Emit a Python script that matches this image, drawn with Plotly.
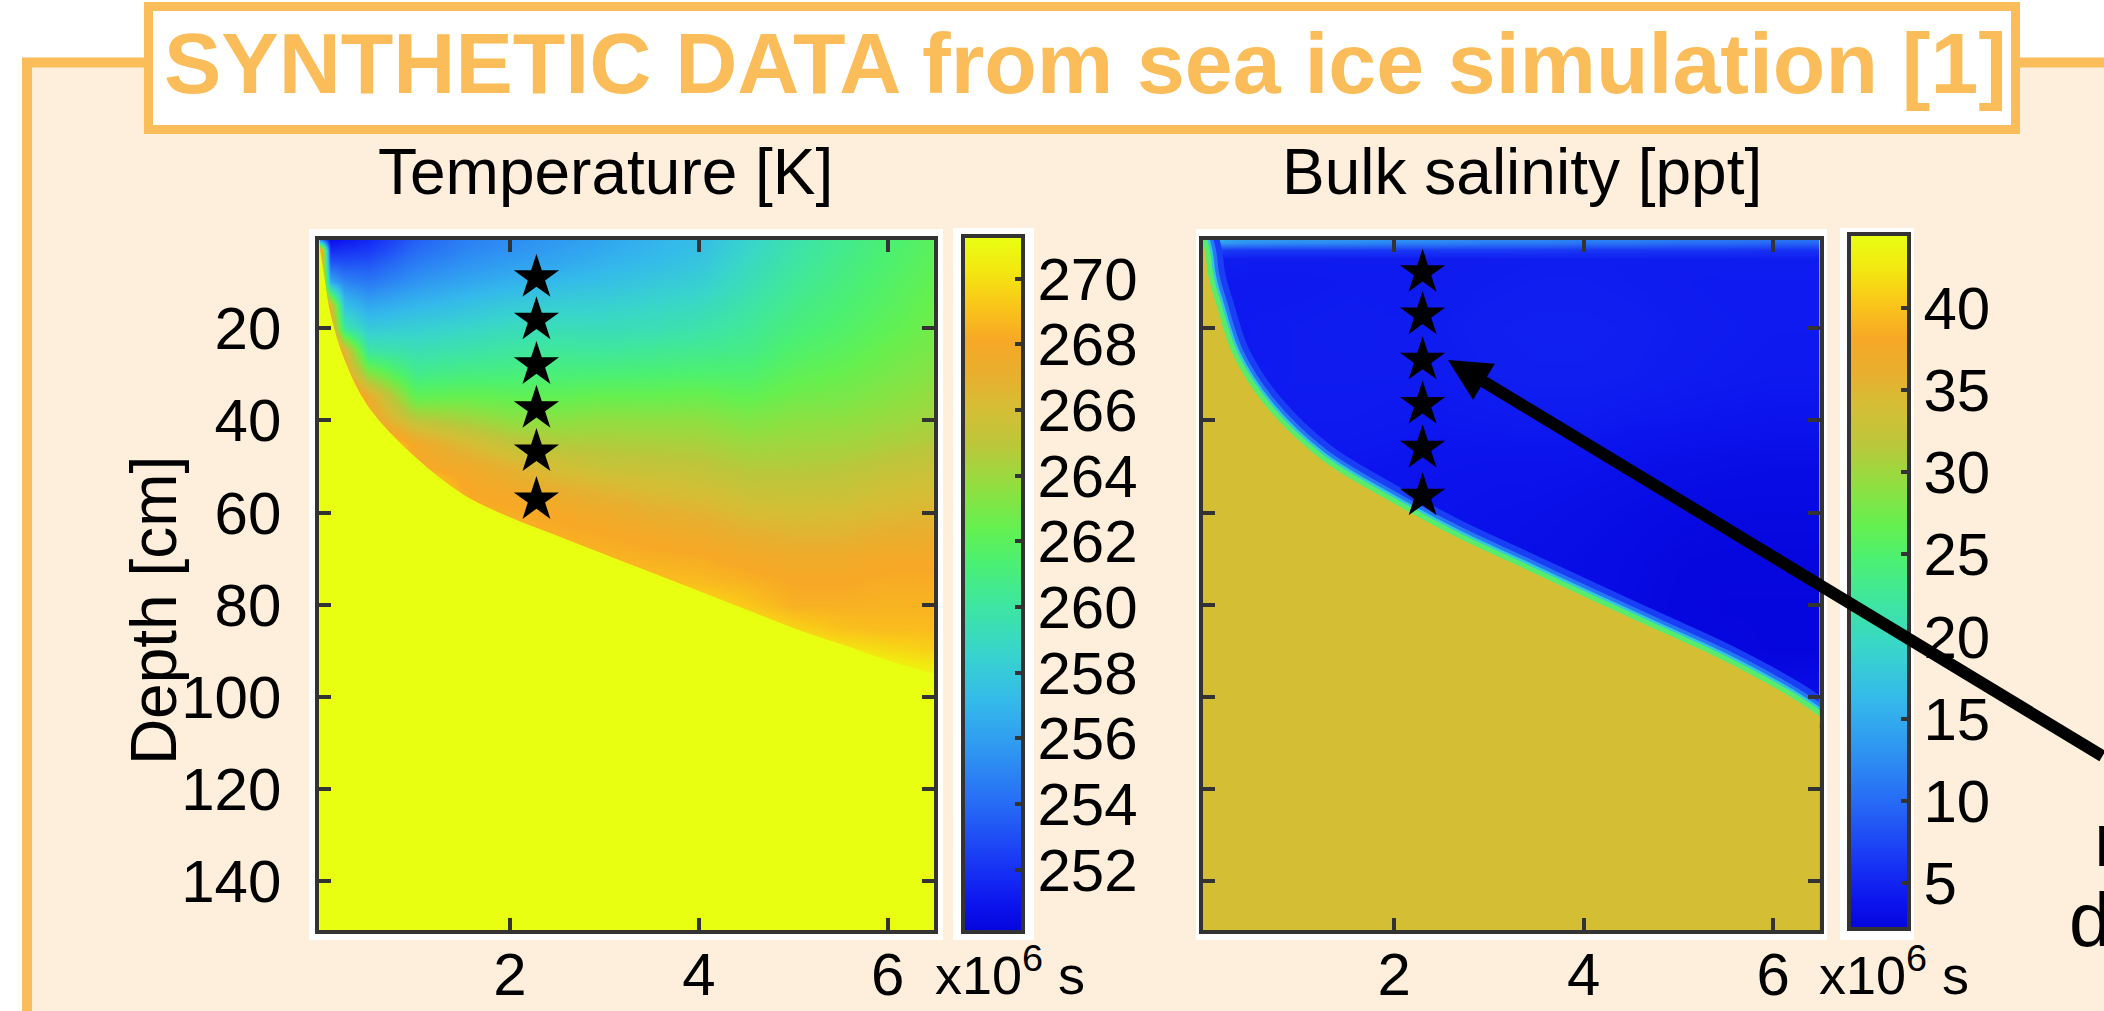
import numpy as np
import plotly.graph_objects as go

W, H = 2104, 1011

# ---------------- data ----------------
time_grid = [0, 0.1, 0.25, 0.5, 1, 1.5, 2, 2.5, 3, 3.5, 4, 4.5, 5, 5.5, 6, 6.5]      # x10^6 s
time_ticks = [2, 4, 6]
depth_ticks = [20, 40, 60, 80, 100, 120, 140]                                        # cm

# Temperature [K] : one profile per time column, at these depths (top -> bottom)
temp_depth = [0, 3, 6, 10, 15, 20, 25, 30, 35, 40, 45, 50, 55, 60, 65, 70, 75, 80, 85, 90, 95, 100, 151]
temp_profiles = [
    [250.1, 268, 268, 268, 268, 268, 271, 271, 271, 271, 271, 271, 271, 271, 271, 271, 271, 271, 271, 271, 271, 271, 271],
    [250.3, 251.8, 253.5, 256.5, 266.5, 268, 271, 271, 271, 271, 271, 271, 271, 271, 271, 271, 271, 271, 271, 271, 271, 271, 271],
    [250.8, 252, 253.2, 255, 257.5, 260, 266.5, 268, 271, 271, 271, 271, 271, 271, 271, 271, 271, 271, 271, 271, 271, 271, 271],
    [251.5, 252.3, 253.3, 254.5, 256.3, 258, 260, 263.5, 267.5, 268, 271, 271, 271, 271, 271, 271, 271, 271, 271, 271, 271, 271, 271],
    [253.5, 254, 254.7, 255.6, 257, 258.3, 259.5, 260.7, 262.3, 265, 267.8, 268.2, 271, 271, 271, 271, 271, 271, 271, 271, 271, 271, 271],
    [254.7, 255, 255.5, 256.3, 257.5, 258.7, 259.8, 261, 262.5, 264.3, 266.3, 267.7, 268.2, 268.5, 271, 271, 271, 271, 271, 271, 271, 271, 271],
    [255.2, 255.5, 256, 256.8, 258, 259.1, 260.1, 261.1, 262.3, 263.6, 265.2, 266.8, 267.8, 268.3, 268.5, 271, 271, 271, 271, 271, 271, 271, 271],
    [255.7, 256, 256.4, 257.2, 258.3, 259.3, 260.3, 261.2, 262.3, 263.5, 264.7, 265.9, 267.1, 268, 268.4, 268.6, 271, 271, 271, 271, 271, 271, 271],
    [256.2, 256.5, 256.9, 257.5, 258.4, 259.2, 260.2, 261.3, 262.5, 263.7, 264.6, 265.4, 266.6, 267.6, 268.2, 268.6, 269, 271, 271, 271, 271, 271, 271],
    [256.8, 257, 257.3, 257.9, 258.7, 259.4, 260.4, 261.4, 262.5, 263.6, 264.5, 265.3, 266.2, 267.1, 267.9, 268.4, 269, 270, 271, 271, 271, 271, 271],
    [257.3, 257.5, 257.8, 258.3, 259, 259.7, 260.6, 261.5, 262.6, 263.6, 264.4, 265.1, 265.9, 266.8, 267.6, 268.3, 268.8, 270, 271, 271, 271, 271, 271],
    [258.5, 258.7, 259, 259.3, 259.8, 260.3, 260.8, 261.5, 262.3, 263.2, 264, 264.7, 265.4, 266.2, 267.1, 267.9, 268.5, 269.2, 270.5, 271, 271, 271, 271],
    [259.6, 259.8, 260, 260.3, 260.7, 261.1, 261.6, 262.2, 262.8, 263.5, 264.1, 264.7, 265.3, 266, 266.8, 267.7, 268.1, 268.4, 269.6, 271, 271, 271, 271],
    [260.5, 260.6, 260.8, 261, 261.3, 261.6, 262, 262.5, 263, 263.6, 264.2, 264.8, 265.4, 266.1, 266.8, 267.7, 268.1, 268.4, 269, 270.3, 271, 271, 271],
    [261.3, 261.4, 261.5, 261.7, 261.9, 262.2, 262.6, 263, 263.4, 263.9, 264.5, 265.2, 265.8, 266.4, 267.2, 268, 268.3, 268.5, 268.8, 269.9, 271, 271, 271],
    [262, 262.1, 262.2, 262.4, 262.6, 262.8, 263.1, 263.4, 263.8, 264.2, 264.8, 265.4, 266, 266.6, 267.3, 268, 268.3, 268.5, 268.8, 269.5, 270.8, 271, 271],
]
# depth where the ice reaches the freezing temperature (yellow region below)
temp_front_time = [-0.03, 0.02, 0.1, 0.25, 0.5, 1, 1.5, 2, 2.5, 3, 3.5, 4, 4.5, 5, 5.5, 6, 6.55]
temp_front_depth = [0.5, 7, 17, 27, 37, 48, 56, 61, 65, 69, 73, 77, 81, 85, 88.5, 92, 95.3]
temp_range = [250.1, 271.3]
temp_ticks = [252, 254, 256, 258, 260, 262, 264, 266, 268, 270]

# Bulk salinity [ppt] of the ice, one profile per time column
sal_depth = [0, 1.5, 3, 5, 10, 20, 30, 40, 50, 60, 70, 80, 90, 100, 110, 151]
sal_profiles = [
    [24, 19, 8.0, 4.5, 4.2, 4.2, 4.2, 4.2, 4.2, 4.2, 4.2, 4.2, 4.2, 4.2, 4.2, 4.2],
    [19, 14, 7.0, 4.5, 4.2, 4.2, 4.2, 4.2, 4.2, 4.2, 4.2, 4.2, 4.2, 4.2, 4.2, 4.2],
    [16, 13, 6.5, 4.5, 4.2, 4.2, 4.3, 4.2, 4.2, 4.2, 4.2, 4.2, 4.2, 4.2, 4.2, 4.2],
    [15, 12.5, 6.5, 4.4, 4.2, 4.3, 4.3, 4.2, 4.2, 4.2, 4.2, 4.2, 4.2, 4.2, 4.2, 4.2],
    [15, 12, 6.5, 4.4, 4.2, 4.4, 4.4, 4.3, 4.1, 4.1, 4.1, 4.1, 4.1, 4.1, 4.1, 4.1],
    [14.5, 12, 6.5, 4.4, 4.3, 4.5, 4.4, 4.3, 4.0, 3.9, 3.9, 3.9, 3.9, 3.9, 3.9, 3.9],
    [14.5, 11.5, 6.5, 4.4, 4.3, 4.4, 4.4, 4.2, 3.9, 3.8, 3.8, 3.8, 3.8, 3.8, 3.8, 3.8],
    [14, 11.5, 6.5, 4.4, 4.4, 4.5, 4.4, 4.1, 3.8, 3.6, 3.6, 3.6, 3.6, 3.6, 3.6, 3.6],
    [13.5, 11, 6.5, 4.4, 4.5, 4.7, 4.6, 4.2, 3.7, 3.5, 3.4, 3.4, 3.4, 3.4, 3.4, 3.4],
    [13.5, 11, 6.5, 4.5, 4.6, 4.8, 4.7, 4.3, 3.7, 3.4, 3.2, 3.2, 3.2, 3.2, 3.2, 3.2],
    [13, 10.5, 6.3, 4.5, 4.6, 4.8, 4.7, 4.3, 3.6, 3.2, 3.0, 3.0, 3.0, 3.0, 3.0, 3.0],
    [13, 10.5, 6.3, 4.5, 4.5, 4.7, 4.6, 4.1, 3.4, 3.0, 2.8, 2.7, 2.8, 2.8, 2.8, 2.8],
    [12.5, 10, 6.2, 4.5, 4.4, 4.5, 4.4, 4.0, 3.2, 2.8, 2.5, 2.4, 2.6, 2.6, 2.6, 2.6],
    [12, 10, 6.2, 4.5, 4.3, 4.4, 4.3, 3.9, 3.1, 2.7, 2.4, 2.3, 2.4, 3.0, 3.0, 3.0],
    [12, 9.5, 6.0, 4.5, 4.3, 4.3, 4.2, 3.8, 3.0, 2.7, 2.4, 2.3, 2.3, 3.0, 3.2, 3.2],
    [11.5, 9.5, 6.0, 4.5, 4.3, 4.3, 4.2, 3.8, 3.0, 2.7, 2.4, 2.3, 2.3, 3.2, 4.2, 4.2],
]
# ice / ocean interface (ocean brine ~34 ppt below it)
sal_front_time = [-0.03, 0.01, 0.03, 0.06, 0.12, 0.3, 0.65, 1.22, 1.93, 2.64, 3.34, 4.05, 4.76, 5.47, 6.18, 6.55]
sal_front_depth = [0.5, 4, 7.5, 10.5, 14.6, 25.8, 37, 48.3, 57.2, 65.1, 71.8, 78.6, 85.3, 92, 99.9, 105]
sal_range = [2.2, 44.5]
sal_ticks = [5, 10, 15, 20, 25, 30, 35, 40]

# sampling points (stars)
star_time_T = [2.28, 2.28, 2.28, 2.28, 2.28, 2.28]
star_depth_T = [9.0, 18.2, 27.9, 37.4, 46.8, 57.2]
star_time_S = [2.30, 2.30, 2.30, 2.30, 2.30, 2.30]
star_depth_S = [7.9, 17.1, 26.9, 36.5, 46.0, 56.4]

DEPTH_BOTTOM = 151

# ---------------- styles ----------------
FONT = "Liberation Sans, Arial, Helvetica, sans-serif"
ORANGE = "#FBBD59"
CREAM = "#FDEFDC"
AX = "#333333"
YELLOW = "rgb(232,255,18)"
OCEAN = "rgb(212,191,52)"

CSCALE = [
    [0.00, "rgb(5,5,220)"], [0.04, "rgb(12,20,238)"], [0.10, "rgb(25,55,245)"],
    [0.18, "rgb(38,105,245)"], [0.26, "rgb(47,150,242)"], [0.33, "rgb(52,185,235)"],
    [0.40, "rgb(56,212,205)"], [0.47, "rgb(62,230,160)"], [0.53, "rgb(75,240,115)"],
    [0.58, "rgb(100,240,80)"], [0.64, "rgb(145,222,64)"], [0.70, "rgb(188,198,58)"],
    [0.75, "rgb(212,190,54)"], [0.80, "rgb(232,175,46)"], [0.85, "rgb(247,168,38)"],
    [0.90, "rgb(250,198,26)"], [0.95, "rgb(243,232,16)"], [1.00, "rgb(232,255,18)"],
]


def px(x):
    return x / W


def py(y):
    return 1 - y / H


XR = [-0.02, 6.49]
YR = [150.5, 0.85]
XDOM_L = [px(319.3), px(933.9)]
XDOM_R = [px(1202.8), px(1819.6)]
YDOM = [py(929.9), py(240)]

fig = go.Figure()

temp_z = np.array(temp_profiles).T.tolist()
sal_z = np.array(sal_profiles).T.tolist()


def cbar(x0, yc, ln, ticks):
    return dict(
        x=px(x0), xanchor="left", xpad=0, y=py(yc), yanchor="middle", ypad=0,
        len=ln, lenmode="pixels", thickness=60, thicknessmode="pixels",
        outlinewidth=4, outlinecolor=AX, tickvals=ticks, ticks="inside",
        ticklen=10, tickwidth=4, tickcolor=AX,
        tickfont=dict(size=60, family=FONT, color="black"),
    )


# ---- temperature panel ----
fig.add_trace(go.Heatmap(
    x=time_grid, y=temp_depth, z=temp_z, colorscale=CSCALE,
    zmin=temp_range[0], zmax=temp_range[1], zsmooth="best", hoverinfo="skip",
    colorbar=cbar(963, 584, 696, temp_ticks), xaxis="x", yaxis="y"))
fig.add_trace(go.Scatter(x=[-0.1, 6.6], y=[DEPTH_BOTTOM, DEPTH_BOTTOM], mode="lines",
                         line=dict(width=0), hoverinfo="skip", xaxis="x", yaxis="y"))
fig.add_trace(go.Scatter(x=temp_front_time, y=temp_front_depth, mode="lines",
                         line=dict(width=0, shape="spline"), fill="tonexty",
                         fillcolor=YELLOW, hoverinfo="skip", xaxis="x", yaxis="y"))
fig.add_trace(go.Scatter(x=star_time_T, y=star_depth_T, mode="markers",
                         marker=dict(symbol="star", size=34, color="black", line=dict(width=0)),
                         hoverinfo="skip", xaxis="x", yaxis="y"))

# ---- salinity panel ----
fig.add_trace(go.Heatmap(
    x=time_grid, y=sal_depth, z=sal_z, colorscale=CSCALE,
    zmin=sal_range[0], zmax=sal_range[1], zsmooth="best", hoverinfo="skip",
    colorbar=cbar(1849, 581.5, 695, sal_ticks), xaxis="x2", yaxis="y2"))
for w, c in [(34, "rgb(25,62,246)"), (22, "rgb(38,120,245)"),
             (15, "rgb(50,200,222)"), (10, "rgb(88,236,108)")]:
    fig.add_trace(go.Scatter(x=sal_front_time, y=sal_front_depth, mode="lines",
                             line=dict(width=w, color=c, shape="spline"),
                             hoverinfo="skip", xaxis="x2", yaxis="y2"))
fig.add_trace(go.Scatter(x=[-0.1, 6.6], y=[DEPTH_BOTTOM, DEPTH_BOTTOM], mode="lines",
                         line=dict(width=0), hoverinfo="skip", xaxis="x2", yaxis="y2"))
fig.add_trace(go.Scatter(x=sal_front_time, y=sal_front_depth, mode="lines",
                         line=dict(width=0, shape="spline"), fill="tonexty",
                         fillcolor=OCEAN, hoverinfo="skip", xaxis="x2", yaxis="y2"))
fig.add_trace(go.Scatter(x=star_time_S, y=star_depth_S, mode="markers",
                         marker=dict(symbol="star", size=34, color="black", line=dict(width=0)),
                         hoverinfo="skip", xaxis="x2", yaxis="y2"))

axis_common = dict(
    ticks="inside", ticklen=12, tickwidth=4, tickcolor=AX, showline=True,
    linewidth=4, linecolor=AX, mirror="ticks", showgrid=False, zeroline=False,
    tickfont=dict(size=60, family=FONT, color="black"), fixedrange=True,
    automargin=False,
)

# ---- decorations ----
shapes = [
    dict(type="rect", xref="paper", yref="paper", x0=px(27), x1=px(2115), y0=py(62), y1=py(1020),
         fillcolor=CREAM, line=dict(width=0), layer="below"),
    dict(type="path", xref="paper", yref="paper",
         path=f"M {px(27)},{py(1020)} L {px(27)},{py(62.5)} L {px(2115)},{py(62.5)}",
         line=dict(color=ORANGE, width=10), layer="below"),
    dict(type="rect", xref="paper", yref="paper", x0=px(148.5), x1=px(2015.5), y0=py(6.5), y1=py(129.5),
         fillcolor="white", line=dict(color=ORANGE, width=9), layer="below"),
    dict(type="rect", xref="paper", yref="paper", x0=px(309), x1=px(943), y0=py(229), y1=py(940),
         fillcolor="white", line=dict(width=0), layer="below"),
    dict(type="rect", xref="paper", yref="paper", x0=px(953), x1=px(1034), y0=py(228), y1=py(940),
         fillcolor="white", line=dict(width=0), layer="below"),
    dict(type="rect", xref="paper", yref="paper", x0=px(1196), x1=px(1827), y0=py(229), y1=py(940),
         fillcolor="white", line=dict(width=0), layer="below"),
    dict(type="rect", xref="paper", yref="paper", x0=px(1840), x1=px(1914), y0=py(228), y1=py(940),
         fillcolor="white", line=dict(width=0), layer="below"),
]

annotations = [
    dict(x=px(1085), y=py(63), xref="paper", yref="paper", showarrow=False,
         text="<b>SYNTHETIC DATA from sea ice simulation [1]</b>",
         font=dict(family=FONT, size=86, color=ORANGE), xanchor="center", yanchor="middle"),
    dict(x=px(605), y=py(172.4), xref="paper", yref="paper", showarrow=False,
         text="Temperature [K]", font=dict(family=FONT, size=64, color="black"),
         xanchor="center", yanchor="middle"),
    dict(x=px(1522), y=py(172.4), xref="paper", yref="paper", showarrow=False,
         text="Bulk salinity [ppt]", font=dict(family=FONT, size=64, color="black"),
         xanchor="center", yanchor="middle"),
    dict(x=px(153.6), y=py(610.5), xref="paper", yref="paper", showarrow=False,
         text="Depth [cm]", textangle=-90, font=dict(family=FONT, size=64, color="black"),
         xanchor="center", yanchor="middle"),
    dict(x=px(933), y=py(1007), xref="paper", yref="paper", showarrow=False,
         text="x10<sup>6</sup> s", font=dict(family=FONT, size=54, color="black"),
         xanchor="left", yanchor="bottom"),
    dict(x=px(1817), y=py(1007), xref="paper", yref="paper", showarrow=False,
         text="x10<sup>6</sup> s", font=dict(family=FONT, size=54, color="black"),
         xanchor="left", yanchor="bottom"),
    dict(x=px(2092), y=py(839.7), xref="paper", yref="paper", showarrow=False,
         text="n", font=dict(family=FONT, size=76, color="black"),
         xanchor="left", yanchor="middle"),
    dict(x=px(2067), y=py(919), xref="paper", yref="paper", showarrow=False,
         text="d", font=dict(family=FONT, size=76, color="black"),
         xanchor="left", yanchor="middle"),
    dict(x=px(1448), y=py(360), xref="paper", yref="paper", text="", showarrow=True,
         ax=672, ay=397, axref="pixel", ayref="pixel",
         arrowhead=2, arrowsize=0.7, arrowwidth=12, arrowcolor="black"),
]

fig.update_layout(
    width=W, height=H, margin=dict(l=0, r=0, t=0, b=0, pad=0, autoexpand=False),
    paper_bgcolor="white", plot_bgcolor="rgba(0,0,0,0)", showlegend=False,
    font=dict(family=FONT, color="black"),
    xaxis=dict(domain=XDOM_L, range=XR, tickvals=time_ticks, anchor="y",
               ticklabelstandoff=-11, **axis_common),
    yaxis=dict(domain=YDOM, range=YR, tickvals=depth_ticks, anchor="x",
               ticklabelstandoff=22, **axis_common),
    xaxis2=dict(domain=XDOM_R, range=XR, tickvals=time_ticks, anchor="y2",
                ticklabelstandoff=-11, **axis_common),
    yaxis2=dict(domain=YDOM, range=YR, tickvals=depth_ticks, anchor="x2",
                showticklabels=False, **axis_common),
    shapes=shapes, annotations=annotations,
)

# the page body would otherwise add an 8 px offset around the figure
fig.write_html("out.html", config={"displayModeBar": False},
               post_script="document.body.style.margin='0';document.body.style.overflow='hidden';")
